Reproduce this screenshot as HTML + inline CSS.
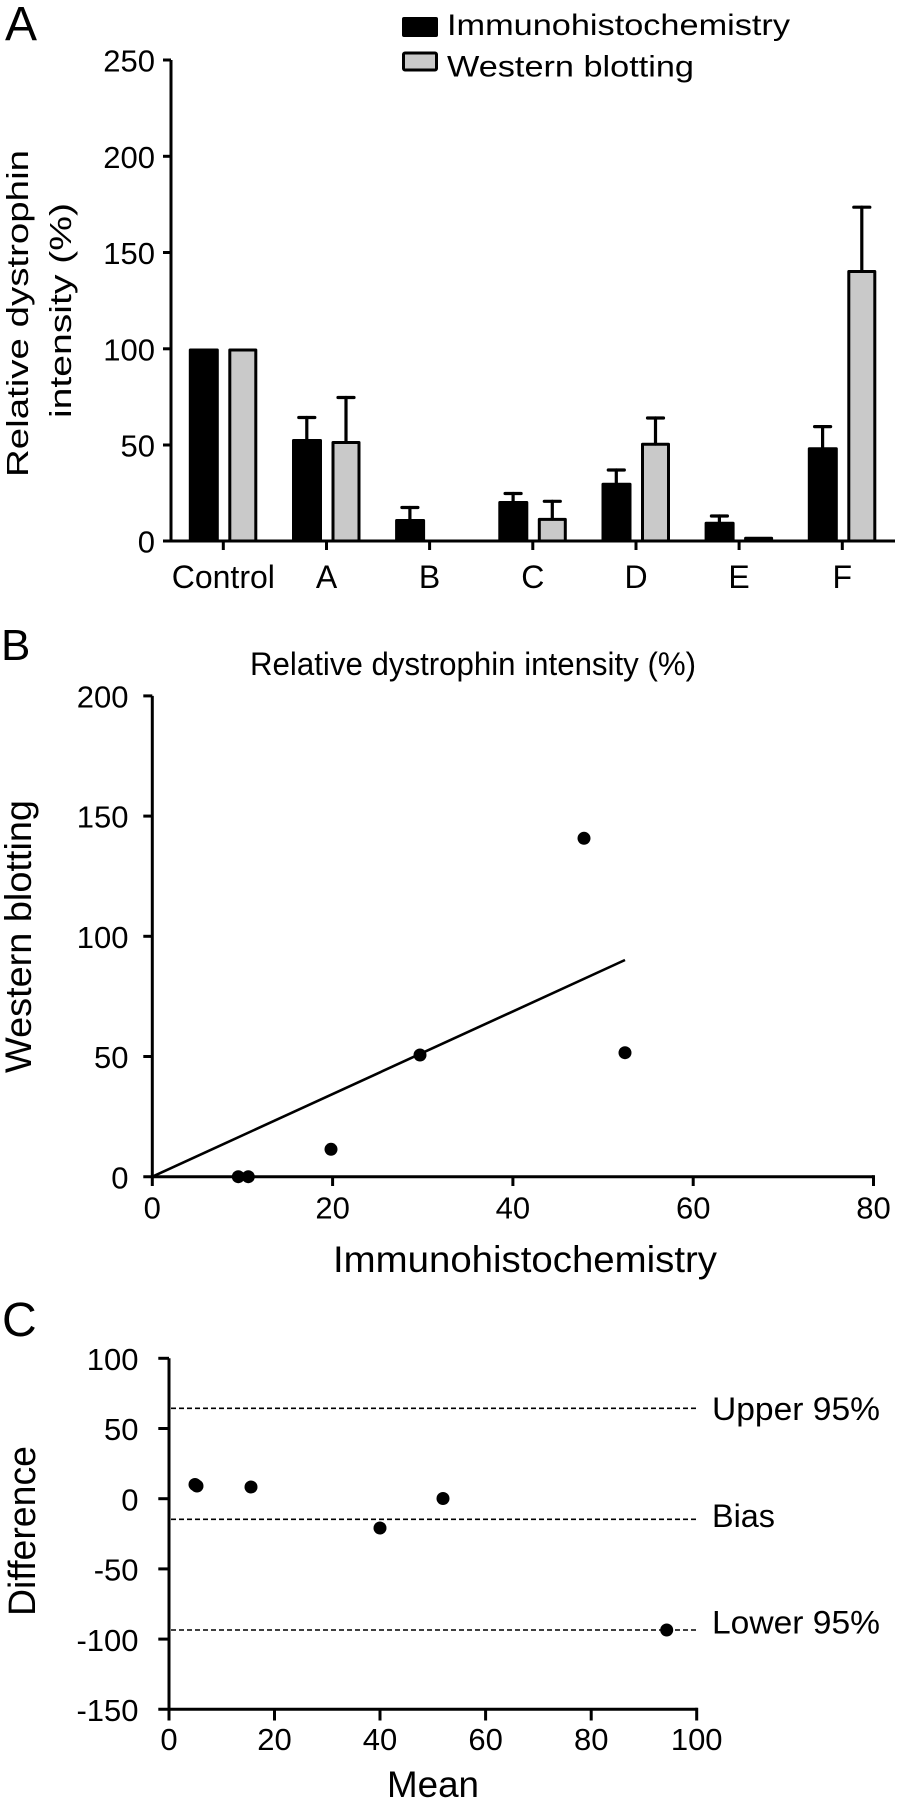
<!DOCTYPE html>
<html>
<head>
<meta charset="utf-8">
<style>
  html,body{margin:0;padding:0;background:#fff;}
  svg{display:block;}
  text{font-family:"Liberation Sans",Arial,sans-serif;fill:#000;}
</style>
</head>
<body>
<svg width="899" height="1800" viewBox="0 0 899 1800" xmlns="http://www.w3.org/2000/svg">
  <rect width="899" height="1800" fill="#fff"/>

  <!-- ================= PANEL A ================= -->
  <text x="5" y="40" font-size="48">A</text>

  <!-- legend -->
  <rect x="402" y="17" width="36" height="20" rx="2" fill="#000"/>
  <rect x="403.5" y="53" width="33" height="17" rx="1.5" fill="#c9c9c9" stroke="#000" stroke-width="3"/>
  <text x="447" y="35" font-size="30" textLength="343" lengthAdjust="spacingAndGlyphs">Immunohistochemistry</text>
  <text x="447" y="76.5" font-size="30" textLength="247" lengthAdjust="spacingAndGlyphs">Western blotting</text>

  <!-- y label -->
  <text transform="translate(28,477) rotate(-90)" x="0" y="0" font-size="31" textLength="327" lengthAdjust="spacingAndGlyphs">Relative dystrophin</text>
  <text transform="translate(71,418) rotate(-90)" x="0" y="0" font-size="31" textLength="215" lengthAdjust="spacingAndGlyphs">intensity (%)</text>

  <!-- y axis -->
  <g stroke="#000" stroke-width="3" fill="none">
    <line x1="171" y1="60" x2="171" y2="542.5"/>
    <line x1="163" y1="541" x2="895" y2="541"/>
    <line x1="163" y1="60" x2="171" y2="60"/>
    <line x1="163" y1="156.3" x2="171" y2="156.3"/>
    <line x1="163" y1="252.5" x2="171" y2="252.5"/>
    <line x1="163" y1="348.8" x2="171" y2="348.8"/>
    <line x1="163" y1="445" x2="171" y2="445"/>
    <!-- category ticks -->
    <line x1="223.3" y1="541" x2="223.3" y2="550"/>
    <line x1="326.5" y1="541" x2="326.5" y2="550"/>
    <line x1="429.6" y1="541" x2="429.6" y2="550"/>
    <line x1="532.8" y1="541" x2="532.8" y2="550"/>
    <line x1="636" y1="541" x2="636" y2="550"/>
    <line x1="739.1" y1="541" x2="739.1" y2="550"/>
    <line x1="842.3" y1="541" x2="842.3" y2="550"/>
  </g>
  <g font-size="31" text-anchor="end">
    <text x="155" y="71.5">250</text>
    <text x="155" y="167.8">200</text>
    <text x="155" y="264">150</text>
    <text x="155" y="360.3">100</text>
    <text x="155" y="456.5">50</text>
    <text x="155" y="552.5">0</text>
  </g>
  <g font-size="32" text-anchor="middle">
    <text x="223.3" y="588">Control</text>
    <text x="326.5" y="588">A</text>
    <text x="429.6" y="588">B</text>
    <text x="532.8" y="588">C</text>
    <text x="636" y="588">D</text>
    <text x="739.1" y="588">E</text>
    <text x="842.3" y="588">F</text>
  </g>

  <!-- bars: black [c-34.5,c-4.5], gray outer [c+5,c+34] -->
  <g stroke="#000" stroke-width="3" stroke-linejoin="round">
    <!-- Control c=223.3 -->
    <rect x="190.3" y="350" width="27" height="191" fill="#000"/>
    <rect x="229.8" y="350" width="26" height="191" fill="#c9c9c9"/>
    <!-- A c=326.5 -->
    <rect x="293.5" y="440.5" width="27" height="100.5" fill="#000"/>
    <rect x="333" y="442.5" width="26" height="98.5" fill="#c9c9c9"/>
    <!-- B c=429.6 -->
    <rect x="396.6" y="520.5" width="27" height="20.5" fill="#000"/>
    <!-- C c=532.8 -->
    <rect x="499.8" y="502.5" width="27" height="38.5" fill="#000"/>
    <rect x="539.3" y="519.4" width="26" height="21.6" fill="#c9c9c9"/>
    <!-- D c=636 -->
    <rect x="603" y="484.2" width="27" height="56.8" fill="#000"/>
    <rect x="642.5" y="444.3" width="26" height="96.7" fill="#c9c9c9"/>
    <!-- E c=739.1 -->
    <rect x="706.1" y="523.2" width="27" height="17.8" fill="#000"/>
    <rect x="745.6" y="538.3" width="26" height="2.7" fill="#c9c9c9"/>
    <!-- F c=842.3 -->
    <rect x="809.3" y="448.8" width="27" height="92.2" fill="#000"/>
    <rect x="848.8" y="271.5" width="26" height="269.5" fill="#c9c9c9"/>
  </g>

  <!-- error bars -->
  <g stroke="#000" stroke-width="3.2" stroke-linecap="round" fill="none">
    <!-- A -->
    <line x1="306.8" y1="440" x2="306.8" y2="417.5"/><line x1="298.8" y1="417.5" x2="314.8" y2="417.5"/>
    <line x1="346" y1="442" x2="346" y2="397.5"/><line x1="338" y1="397.5" x2="354" y2="397.5"/>
    <!-- B -->
    <line x1="409.9" y1="520" x2="409.9" y2="507.5"/><line x1="401.9" y1="507.5" x2="417.9" y2="507.5"/>
    <!-- C -->
    <line x1="513.1" y1="502" x2="513.1" y2="493.5"/><line x1="505.1" y1="493.5" x2="521.1" y2="493.5"/>
    <line x1="552.3" y1="519" x2="552.3" y2="501.3"/><line x1="544.3" y1="501.3" x2="560.3" y2="501.3"/>
    <!-- D -->
    <line x1="616.3" y1="484" x2="616.3" y2="470"/><line x1="608.3" y1="470" x2="624.3" y2="470"/>
    <line x1="655.5" y1="444" x2="655.5" y2="418"/><line x1="647.5" y1="418" x2="663.5" y2="418"/>
    <!-- E -->
    <line x1="719.4" y1="523" x2="719.4" y2="516"/><line x1="711.4" y1="516" x2="727.4" y2="516"/>
    <!-- F -->
    <line x1="822.6" y1="448" x2="822.6" y2="426.6"/><line x1="814.6" y1="426.6" x2="830.6" y2="426.6"/>
    <line x1="861.8" y1="271" x2="861.8" y2="207.2"/><line x1="853.8" y1="207.2" x2="869.8" y2="207.2"/>
  </g>

  <!-- ================= PANEL B ================= -->
  <text x="1" y="660" font-size="44">B</text>
  <text x="250" y="675" font-size="32" textLength="446" lengthAdjust="spacingAndGlyphs">Relative dystrophin intensity (%)</text>
  <text transform="translate(31,1073) rotate(-90)" x="0" y="0" font-size="37" textLength="273" lengthAdjust="spacingAndGlyphs">Western blotting</text>
  <text x="333" y="1272" font-size="37" textLength="384" lengthAdjust="spacingAndGlyphs">Immunohistochemistry</text>

  <g stroke="#000" stroke-width="3" fill="none">
    <line x1="152.3" y1="695.9" x2="152.3" y2="1186"/>
    <line x1="143.3" y1="1176.7" x2="873.5" y2="1176.7"/>
    <line x1="143.3" y1="695.9" x2="152.3" y2="695.9"/>
    <line x1="143.3" y1="816.1" x2="152.3" y2="816.1"/>
    <line x1="143.3" y1="936.3" x2="152.3" y2="936.3"/>
    <line x1="143.3" y1="1056.5" x2="152.3" y2="1056.5"/>
    <line x1="332.6" y1="1176.7" x2="332.6" y2="1186"/>
    <line x1="512.9" y1="1176.7" x2="512.9" y2="1186"/>
    <line x1="693.2" y1="1176.7" x2="693.2" y2="1186"/>
    <line x1="873.5" y1="1175.2" x2="873.5" y2="1186"/>
  </g>
  <g font-size="31" text-anchor="end">
    <text x="128.5" y="707.5">200</text>
    <text x="128.5" y="827.7">150</text>
    <text x="128.5" y="947.9">100</text>
    <text x="128.5" y="1068.1">50</text>
    <text x="128.5" y="1188.3">0</text>
  </g>
  <g font-size="31" text-anchor="middle">
    <text x="152.3" y="1218.3">0</text>
    <text x="332.6" y="1218.3">20</text>
    <text x="512.9" y="1218.3">40</text>
    <text x="693.2" y="1218.3">60</text>
    <text x="873.5" y="1218.3">80</text>
  </g>
  <line x1="152.3" y1="1176.7" x2="625" y2="960" stroke="#000" stroke-width="2.6"/>
  <g fill="#000">
    <circle cx="238.3" cy="1176.7" r="6.5"/>
    <circle cx="248.3" cy="1176.7" r="6.5"/>
    <circle cx="331" cy="1149.3" r="6.5"/>
    <circle cx="420" cy="1055" r="6.5"/>
    <circle cx="625" cy="1052.7" r="6.5"/>
    <circle cx="584" cy="838.3" r="6.5"/>
  </g>

  <!-- ================= PANEL C ================= -->
  <text x="2" y="1336" font-size="48">C</text>
  <text transform="translate(35,1616) rotate(-90)" x="0" y="0" font-size="38" textLength="170" lengthAdjust="spacingAndGlyphs">Difference</text>
  <text x="387" y="1797" font-size="37" textLength="92" lengthAdjust="spacingAndGlyphs">Mean</text>

  <g stroke="#000" stroke-width="1.6" stroke-dasharray="5,3" fill="none">
    <line x1="171" y1="1408.3" x2="697" y2="1408.3"/>
    <line x1="171" y1="1519.3" x2="697" y2="1519.3"/>
    <line x1="171" y1="1630" x2="697" y2="1630"/>
  </g>
  <g font-size="32">
    <text x="712" y="1420" textLength="168" lengthAdjust="spacingAndGlyphs">Upper 95%</text>
    <text x="712" y="1527" textLength="63" lengthAdjust="spacingAndGlyphs">Bias</text>
    <text x="712" y="1633.5" textLength="168" lengthAdjust="spacingAndGlyphs">Lower 95%</text>
  </g>

  <g stroke="#000" stroke-width="3" fill="none">
    <line x1="169" y1="1358.3" x2="169" y2="1720.5"/>
    <line x1="158.3" y1="1709.3" x2="697.5" y2="1709.3"/>
    <line x1="158.3" y1="1358.3" x2="169" y2="1358.3"/>
    <line x1="158.3" y1="1428.5" x2="169" y2="1428.5"/>
    <line x1="158.3" y1="1498.7" x2="169" y2="1498.7"/>
    <line x1="158.3" y1="1568.9" x2="169" y2="1568.9"/>
    <line x1="158.3" y1="1639.1" x2="169" y2="1639.1"/>
    <line x1="274.5" y1="1709.3" x2="274.5" y2="1720.5"/>
    <line x1="380" y1="1709.3" x2="380" y2="1720.5"/>
    <line x1="485.6" y1="1709.3" x2="485.6" y2="1720.5"/>
    <line x1="591.2" y1="1709.3" x2="591.2" y2="1720.5"/>
    <line x1="696.7" y1="1707.8" x2="696.7" y2="1720.5"/>
  </g>
  <g font-size="31" text-anchor="end">
    <text x="138.5" y="1370">100</text>
    <text x="138.5" y="1440.2">50</text>
    <text x="138.5" y="1510.4">0</text>
    <text x="138.5" y="1580.6">-50</text>
    <text x="138.5" y="1650.8">-100</text>
    <text x="138.5" y="1721">-150</text>
  </g>
  <g font-size="31" text-anchor="middle">
    <text x="169" y="1750">0</text>
    <text x="274.5" y="1750">20</text>
    <text x="380" y="1750">40</text>
    <text x="485.6" y="1750">60</text>
    <text x="591.2" y="1750">80</text>
    <text x="696.7" y="1750">100</text>
  </g>
  <g fill="#000">
    <circle cx="195" cy="1484.5" r="6.5"/>
    <circle cx="197" cy="1486" r="6.5"/>
    <circle cx="251" cy="1487" r="6.5"/>
    <circle cx="380" cy="1528" r="6.5"/>
    <circle cx="443" cy="1498.5" r="6.5"/>
    <circle cx="666.7" cy="1630" r="6.5"/>
  </g>
</svg>
</body>
</html>
